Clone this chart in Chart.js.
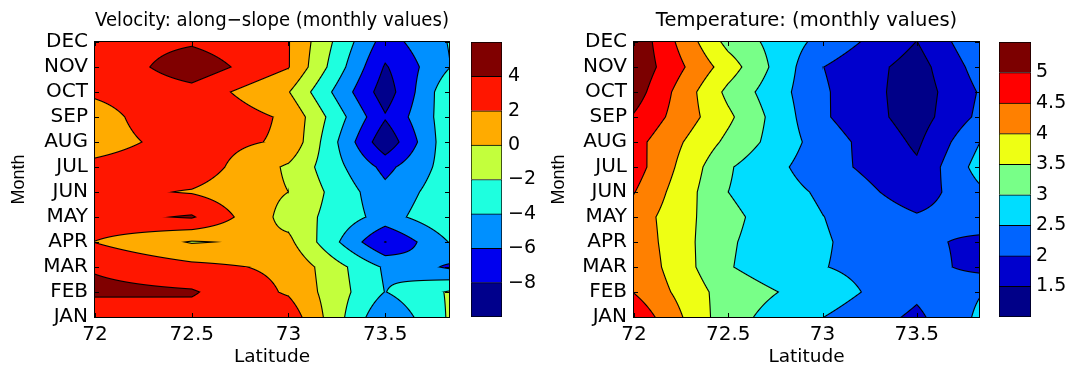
<!DOCTYPE html>
<html>
<head>
<meta charset="utf-8">
<script src="https://cdn.jsdelivr.net/npm/chart.js@4.4.0/dist/chart.umd.min.js"></script>
<style>
  html, body { margin: 0; padding: 0; background: #fff; }
  #wrap { position: relative; width: 1071px; height: 367px; overflow: hidden; background: #fff; }
  canvas { position: absolute; top: 0; }
</style>
</head>
<body>
<div id="wrap">
  <canvas id="velChart" width="460" height="367" style="left:0px"></canvas>
  <canvas id="velBar" width="80" height="367" style="left:460px"></canvas>
  <canvas id="tempChart" width="450" height="367" style="left:540px"></canvas>
  <canvas id="tempBar" width="81" height="367" style="left:990px"></canvas>
</div>
<script>
// grid the contours are drawn from
const latitudes = [72, 72.5, 73, 73.5, 73.83];
const months = ['JAN', 'FEB', 'MAR', 'APR', 'MAY', 'JUN', 'JUL', 'AUG', 'SEP', 'OCT', 'NOV', 'DEC'];
const latTicks = [72, 72.5, 73, 73.5];

// along-slope velocity, one row per month (JAN..DEC), one column per latitude
const velocity = [
  [2.05, 3.2, 3.27, -5.8, -1.8],
  [4.5, 4.2, 1.75, -4.05, -1.82],
  [3.8, 2.55, 1.6, -4.3, -6.3],
  [1.95, -0.15, 0.5, -8.05, -3.95],
  [3.3, 4.2, -0.8, -4.8, -2.4],
  [2.6, 1.85, 0.0, -5.4, -2.8],
  [2.45, 3.2, -0.3, -6.6, -3.1],
  [1.2, 2.85, 1.7, -9.5, -2.6],
  [1.2, 3.8, 1.66, -7.8, -2.8],
  [2.3, 3.27, 0.1, -9.1, -2.5],
  [2.3, 5.3, 2.1, -8.2, -4.1],
  [3.0, 3.73, 2.1, -6.9, -3.9]
];
const velocityLevels = [-8, -6, -4, -2, 0, 2, 4];
const velocityRange = [-10, 6];
const velocityColors = ['#00008c', '#0000ee', '#0090ff', '#1effdf', '#c3ff3c', '#ffab00', '#ff1600', '#800000'];

// temperature, same layout
const temperature = [
  [4.88, 3.18, 2.51, 1.90, 2.58],
  [4.48, 3.25, 2.78, 2.10, 2.47],
  [4.40, 3.03, 2.52, 2.20, 1.85],
  [4.33, 3.05, 2.55, 2.10, 1.90],
  [4.27, 3.11, 2.51, 2.05, 2.25],
  [4.52, 3.00, 2.42, 1.73, 2.40],
  [4.73, 3.05, 2.20, 1.58, 2.69],
  [4.68, 3.38, 2.26, 1.41, 2.48],
  [4.95, 3.60, 2.07, 1.26, 2.10],
  [5.25, 3.37, 2.07, 1.23, 2.03],
  [5.39, 3.75, 2.01, 1.29, 2.20],
  [5.40, 3.34, 2.34, 1.49, 2.40]
];
const temperatureLevels = [1.5, 2, 2.5, 3, 3.5, 4, 4.5, 5];
const temperatureRange = [1, 5.5];
const temperatureColors = ['#000088', '#0000cd', '#0064ff', '#00ddff', '#78ff88', '#eeff14', '#ff8000', '#ff0000', '#7c0000'];

Chart.defaults.font.family = "'DejaVu Sans', sans-serif";
Chart.defaults.color = '#000';

function hexToRgb(h) {
  return [1, 3, 5].map(k => parseInt(h.substr(k, 2), 16));
}

// fills the plot area from the grid (bilinear), with black lines on the levels
const contourFill = {
  id: 'contourFill',
  beforeDatasetsDraw(chart, args, opts) {
    const pts = chart.data.datasets[0].data;
    const gx = [...new Set(pts.map(p => p.x))].sort((a, b) => a - b);
    const gy = [...new Set(pts.map(p => p.y))].sort((a, b) => a - b);
    const grid = gy.map(() => new Array(gx.length));
    pts.forEach(p => { grid[gy.indexOf(p.y)][gx.indexOf(p.x)] = p.v; });

    const levels = opts.levels;
    const rgb = opts.colors.map(hexToRgb);
    const {ctx, chartArea} = chart;
    const xs = chart.scales.x, ys = chart.scales.y;
    const x0 = Math.round(chartArea.left), y0 = Math.round(chartArea.top);
    const w = Math.round(chartArea.right) - x0, h = Math.round(chartArea.bottom) - y0;
    const img = ctx.createImageData(w, h);
    const latPerPx = Math.abs(xs.getValueForPixel(x0 + 1) - xs.getValueForPixel(x0));
    const monPerPx = Math.abs(ys.getValueForPixel(y0 + 1) - ys.getValueForPixel(y0));
    const cellOf = (g, v) => { let i = 0; while (i < g.length - 2 && v > g[i + 1]) i++; return i; };
    const clamp = (v, lo, hi) => Math.min(Math.max(v, lo), hi);

    for (let r = 0; r < h; r++) {
      const m = clamp(ys.getValueForPixel(y0 + r + 0.5), gy[0], gy[gy.length - 1]);
      const j = cellOf(gy, m);
      const dy = gy[j + 1] - gy[j];
      const ty = (m - gy[j]) / dy;
      for (let c = 0; c < w; c++) {
        const lat = clamp(xs.getValueForPixel(x0 + c + 0.5), gx[0], gx[gx.length - 1]);
        const i = cellOf(gx, lat);
        const dx = gx[i + 1] - gx[i];
        const tx = (lat - gx[i]) / dx;
        const a = grid[j][i], b = grid[j][i + 1], e = grid[j + 1][i], f = grid[j + 1][i + 1];
        const v = a * (1 - tx) * (1 - ty) + b * tx * (1 - ty) + e * (1 - tx) * ty + f * tx * ty;
        const gLat = ((1 - ty) * (b - a) + ty * (f - e)) / dx * latPerPx;
        const gMon = ((1 - tx) * (e - a) + tx * (f - b)) / dy * monPerPx;
        const g = Math.hypot(gLat, gMon);
        let band = 0;
        while (band < levels.length && v >= levels[band]) band++;
        let dist = Infinity;
        if (g > 0) levels.forEach(L => { dist = Math.min(dist, Math.abs(v - L) / g); });
        const ink = clamp(opts.lineWidth / 2 + 0.5 - dist, 0, 1);
        const col = rgb[band];
        const k = (r * w + c) * 4;
        img.data[k] = col[0] * (1 - ink);
        img.data[k + 1] = col[1] * (1 - ink);
        img.data[k + 2] = col[2] * (1 - ink);
        img.data[k + 3] = 255;
      }
    }
    ctx.putImageData(img, x0, y0);
  },
  afterDatasetsDraw(chart) {
    const {ctx, chartArea} = chart;
    const xs = chart.scales.x, ys = chart.scales.y;
    const x0 = Math.round(chartArea.left), y0 = Math.round(chartArea.top);
    const x1 = Math.round(chartArea.right), y1 = Math.round(chartArea.bottom);
    ctx.save();
    ctx.strokeStyle = '#000';
    ctx.lineWidth = 1;
    ctx.strokeRect(x0 - 0.5, y0 - 0.5, x1 - x0 + 1, y1 - y0 + 1);
    ctx.beginPath();
    xs.ticks.forEach(t => {
      const px = Math.round(xs.getPixelForValue(t.value)) + 0.5;
      ctx.moveTo(px, y1); ctx.lineTo(px, y1 - 4);
      ctx.moveTo(px, y0); ctx.lineTo(px, y0 + 4);
    });
    ys.ticks.forEach(t => {
      const py = Math.round(ys.getPixelForValue(t.value)) + 0.5;
      ctx.moveTo(x0, py); ctx.lineTo(x0 + 4, py);
      ctx.moveTo(x1, py); ctx.lineTo(x1 - 4, py);
    });
    ctx.stroke();
    ctx.restore();
  }
};

function contourChart(id, title, values, levels, colors, axisWidth) {
  const points = [];
  months.forEach((m, j) => {
    latitudes.forEach((lat, i) => points.push({x: lat, y: j + 1, v: values[j][i]}));
  });
  return new Chart(document.getElementById(id), {
    type: 'scatter',
    data: { datasets: [{ data: points, pointRadius: 0, pointHoverRadius: 0 }] },
    options: {
      responsive: false,
      animation: false,
      events: [],
      devicePixelRatio: 1,
      layout: { padding: { left: 0, right: 11, top: 0, bottom: 0 } },
      plugins: {
        legend: { display: false },
        tooltip: { enabled: false },
        title: {
          display: true, text: title, fullSize: false, color: '#000',
          font: { size: 19.5, weight: 'normal', lineHeight: 1.2 },
          padding: { top: 8.9, bottom: 9.7 }
        },
        contourFill: { levels: levels, colors: colors, lineWidth: 1.1 }
      },
      scales: {
        x: {
          type: 'linear',
          min: latitudes[0],
          max: latitudes[latitudes.length - 1],
          afterBuildTicks: s => { s.ticks = latTicks.map(v => ({ value: v })); },
          afterFit: s => { s.height = 50; },
          grid: { display: false, drawTicks: false },
          border: { display: false },
          ticks: { color: '#000', font: { size: 20 }, padding: 6, maxRotation: 0, autoSkip: false, callback: v => String(v) },
          title: { display: true, text: 'Latitude', color: '#000', font: { size: 18.5, lineHeight: 1 }, padding: { top: 0, bottom: 0.5 } }
        },
        y: {
          type: 'linear',
          min: 1,
          max: months.length,
          afterBuildTicks: s => { s.ticks = months.map((m, j) => ({ value: j + 1 })); },
          afterFit: s => { s.width = axisWidth; },
          grid: { display: false, drawTicks: false },
          border: { display: false },
          ticks: { color: '#000', font: { size: 20 }, padding: 7, autoSkip: false, callback: v => months[v - 1] },
          title: { display: true, text: 'Month', color: '#000', font: { family: "'Liberation Sans', sans-serif", size: 18, lineHeight: 1 }, padding: { top: 10, bottom: 0 } }
        }
      }
    },
    plugins: [contourFill]
  });
}

function fmtLevel(v) {
  return v < 0 ? '\u2212' + Math.abs(v) : String(v);
}

function colorBar(id, levels, range, colors, padLeft, barWidth, labelPad) {
  const canvas = document.getElementById(id);
  const edges = [range[0], ...levels, range[1]];
  const datasets = colors.map((c, k) => ({
    data: [[edges[k], edges[k + 1]]],
    backgroundColor: c,
    borderColor: '#000',
    borderWidth: k === 0 ? 1 : { top: 1, left: 1, right: 1, bottom: 0 },
    borderSkipped: false,
    barPercentage: 1,
    categoryPercentage: 1,
    grouped: false
  }));
  return new Chart(canvas, {
    type: 'bar',
    data: { labels: [''], datasets: datasets },
    options: {
      responsive: false,
      animation: false,
      events: [],
      devicePixelRatio: 1,
      layout: { padding: { left: padLeft, right: 0, top: 42, bottom: 50 } },
      plugins: { legend: { display: false }, tooltip: { enabled: false } },
      scales: {
        x: { display: false },
        y: {
          position: 'right',
          min: range[0],
          max: range[1],
          afterBuildTicks: s => { s.ticks = levels.map(v => ({ value: v })); },
          afterFit: s => { s.width = canvas.width - padLeft - barWidth; },
          grid: { display: false, drawTicks: false },
          border: { display: false },
          ticks: { color: '#000', font: { size: 19 }, padding: labelPad, autoSkip: false, callback: v => fmtLevel(v) }
        }
      }
    }
  });
}

contourChart('velChart', 'Velocity: along\u2212slope (monthly values)', velocity, velocityLevels, velocityColors, 95);
colorBar('velBar', velocityLevels, velocityRange, velocityColors, 11, 31, 6);
contourChart('tempChart', 'Temperature: (monthly values)', temperature, temperatureLevels, temperatureColors, 94);
colorBar('tempBar', temperatureLevels, temperatureRange, temperatureColors, 9, 32, 5);
</script>
</body>
</html>
